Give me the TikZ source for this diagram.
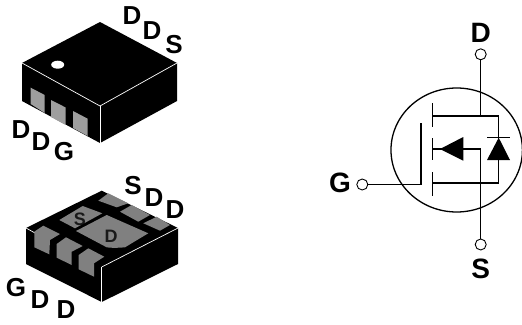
\documentclass[tikz,border=0pt]{standalone}
\usepackage{fontspec}
\setmainfont{Liberation Sans}
\usetikzlibrary{positioning}
\definecolor{padgray}{gray}{0.62}
\definecolor{padgrayb}{gray}{0.5}

\begin{document}
\begin{tikzpicture}[x=1pt,y=-1pt,
  pin/.style={inner sep=0pt,font=\fontsize{26}{26}\selectfont\bfseries},
  pinbig/.style={inner sep=0pt,font=\fontsize{28}{28}\selectfont\bfseries},
  pinsmall/.style={inner sep=0pt,font=\fontsize{18}{18}\selectfont\bfseries},
  terminal/.style={circle,draw=black,fill=white,line width=0.9pt,inner sep=0pt,minimum size=11pt},
  wire/.style={draw=black,line width=1.2pt},
  pad/.style={fill=padgray},
  padb/.style={fill=padgrayb},
  edge/.style={draw=white,line width=0.7pt}]
  \useasboundingbox (0,0) rectangle (522,324);

  % top view of the package
  \fill (22,63) -- (100,22) -- (177,63) -- (177,101) -- (100,143) -- (22,101) -- cycle;
  \draw[edge] (22,63) -- (100,106) -- (177,63);
  \draw[edge] (100,106) -- (100,143);
  \fill[white] (57.7,64.7) ellipse [x radius=6.5, y radius=4];
  \fill[pad] (30.7,87.7) -- (44.7,95) -- (44.7,113) -- (30.7,104) -- cycle;
  \fill[pad] (51,100) -- (65.7,107.5) -- (65.7,125) -- (51,117) -- cycle;
  \fill[pad] (73,111) -- (87.7,118.7) -- (87.7,136) -- (73,128) -- cycle;

  \node[pin] (topD1) at (132,16) {D};
  \node[pin] (topD2) at (152,31) {D};
  \node[pin] (topS) at (174,45) {S};
  \node[pin] (topD3) at (21,130) {D};
  \node[pin] (topD4) at (41,142) {D};
  \node[pin] (topG) at (64,152) {G};

  % bottom view of the package
  \fill (26,228) -- (101.7,190.7) -- (178,228) -- (178,264) -- (101.7,302) -- (26,264) -- cycle;
  \draw[edge] (26,228) -- (35,233);
  \draw[edge] (101.7,267) -- (178,228);
  \draw[edge] (101.7,267) -- (101.7,302);
  \fill[padb] (59.3,220) -- (82.7,206) -- (102.3,213.3) -- (75,228.3) -- cycle;
  \fill[padb] (76,231) -- (106.7,215) -- (148.3,233.3) -- (125,247.3) .. controls (118,248) and (110,248) .. (106.7,247.3) -- cycle;
  \fill[padb] (98.3,200.7) -- (108.3,193.3) -- (128.3,203.3) -- (116.7,207.3) -- cycle;
  \fill[padb] (120,211.7) -- (131.7,205) -- (150,215) -- (138.3,221.7) -- cycle;
  \fill[padb] (143.3,223.3) -- (156.7,216.7) -- (170,225) -- (160,230.7) -- cycle;
  \fill[padb] (34.3,231.7) -- (43.3,225.7) -- (60,234) -- (50,240) -- (49.3,254.3) -- (34.3,247.3) -- cycle;
  \fill[padb] (56.7,244) -- (66,237.3) -- (82.7,246) -- (71.7,251.7) -- (71.7,265) -- (56.7,257.7) -- cycle;
  \fill[padb] (78.7,255) -- (88.3,248.3) -- (104.3,256.7) -- (94,263.3) -- (94,276.7) -- (78.7,269.3) -- cycle;

  \node[pinsmall,opacity=0.8] (padS) at (80,219) {S};
  \node[pinsmall,opacity=0.8] (padD) at (111,236.5) {D};
  \node[pin] (botS) at (133,186) {S};
  \node[pin] (botD1) at (154,198) {D};
  \node[pin] (botD2) at (175,210) {D};
  \node[pin] (botG) at (16,288) {G};
  \node[pin] (botD3) at (40,300) {D};
  \node[pin] (botD4) at (66,309.5) {D};

  % mosfet symbol
  \node[circle,draw=black,line width=1.3pt,inner sep=0pt,minimum size=124pt,xscale=1.06] (body) at (456.7,150) {};
  \node[terminal] (termD) at (480.7,54.3) {};
  \node[terminal] (termS) at (480.7,244.5) {};
  \node[terminal] (termG) at (362.3,184.5) {};
  \node[pinbig] (labD) at (480.7,33) {D};
  \node[pinbig] (labS) at (480.7,269) {S};
  \node[pinbig] (labG) at (340,183) {G};

  \coordinate (drainT) at (480.7,116);
  \coordinate (drainL) at (432.7,116);
  \coordinate (drainR) at (498.7,116);
  \coordinate (srcR) at (498.7,183);
  \coordinate (srcL) at (432.7,183);
  \coordinate (midL) at (432.7,149);
  \coordinate (midR) at (480.7,149);
  \coordinate (gateB) at (421,184.5);
  \coordinate (gateT) at (421,122.7);

  \draw[wire] (termD) -- (drainT);
  \draw[wire] (drainL) -- (drainR) -- (srcR) -- (srcL);
  \draw[wire] (midL) -- (midR) -- (termS);
  \draw[wire] (termG) -- (gateB) -- (gateT);
  \draw[wire] (432.7,103) -- (432.7,127);
  \draw[wire] (432.7,138) -- (432.7,160);
  \draw[wire] (432.7,172) -- (432.7,196);
  \fill (440,149) -- (463.3,137) -- (463.3,160.7) -- cycle;
  \fill (498.7,137.7) -- (510,160) -- (487,160) -- cycle;
  \draw[wire] (487,137.7) -- (510,137.7);
\end{tikzpicture}
\end{document}
